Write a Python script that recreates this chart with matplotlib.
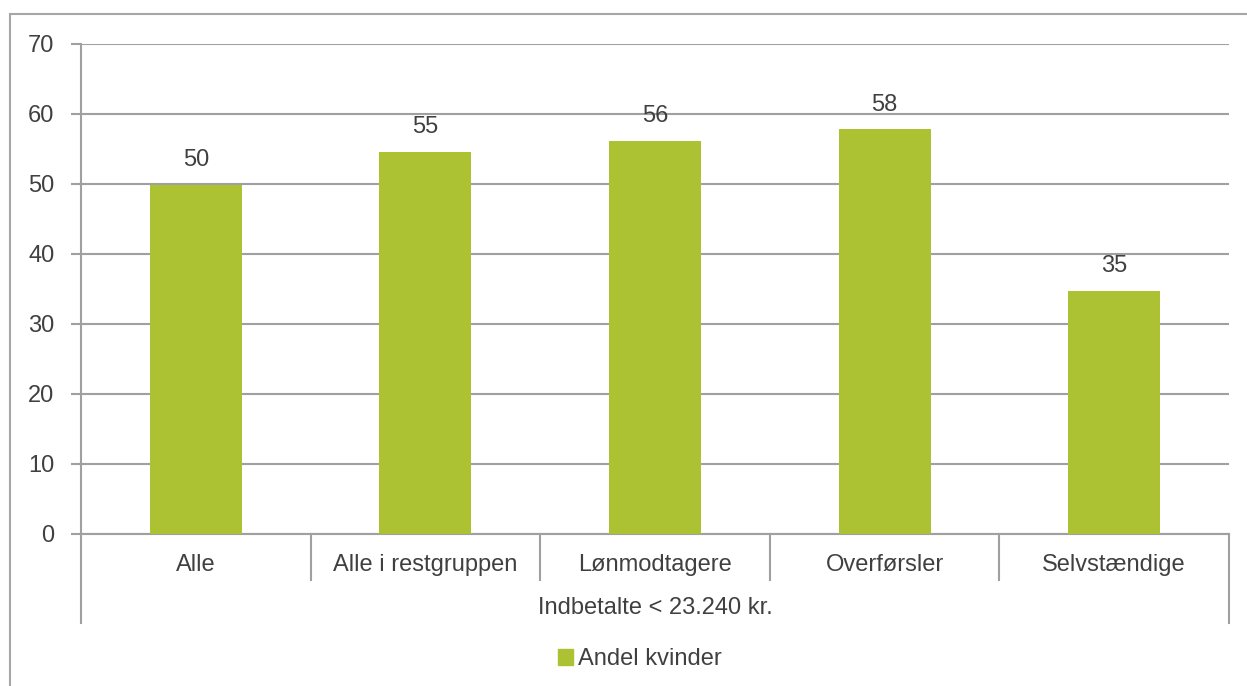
import matplotlib
matplotlib.use('Agg')
from matplotlib import pyplot as plt
from matplotlib.patches import Rectangle, Patch

# Andel kvinder blandt indbetalere under 23.240 kr.
categories = ['Alle', 'Alle i restgruppen', 'Lønmodtagere', 'Overførsler', 'Selvstændige']
values = [49.9, 54.6, 56.1, 57.8, 34.7]
group_label = 'Indbetalte < 23.240 kr.'
series_name = 'Andel kvinder'

bar_color = '#adc232'
text_color = '#404040'
line_color = '#a0a0a0'
fs = 17

plt.rcParams['font.family'] = ['Liberation Sans', 'DejaVu Sans']

fig = plt.figure(figsize=(12.47, 6.86), dpi=100)
ax = fig.add_axes([81 / 1247, 1 - 534 / 686, (1229 - 81) / 1247, (534 - 44) / 686])

x = list(range(len(categories)))
ax.bar(x, values, width=0.4, color=bar_color, zorder=3)

for xi, v in zip(x, values):
    ax.annotate(f'{v:.0f}', (xi, v), xytext=(0, 10), textcoords='offset points',
                ha='center', va='bottom', fontsize=fs, color=text_color)

ax.set_xlim(-0.5, len(categories) - 0.5)
ax.set_ylim(0, 70)
ax.set_yticks(range(0, 71, 10))
ax.yaxis.grid(True, color=line_color, lw=1.5, zorder=0)
ax.tick_params(axis='y', length=7, width=1.5, color=line_color, labelcolor=text_color,
               labelsize=fs, pad=12)
ax.set_xticks([])
for s in ['top', 'right']:
    ax.spines[s].set_visible(False)
ax.spines['left'].set_color(line_color)
ax.spines['left'].set_linewidth(1.5)
ax.spines['bottom'].set_color(line_color)
ax.spines['bottom'].set_linewidth(1.5)

# two-level category axis drawn by hand below the plot
trans = ax.get_xaxis_transform()
px = 1 / (534 - 44)
for b in range(1, len(categories)):
    ax.plot([b - 0.5, b - 0.5], [0, -46 * px], transform=trans, color=line_color,
            lw=1.5, clip_on=False)
for b in [-0.5, len(categories) - 0.5]:
    ax.plot([b, b], [0, -89 * px], transform=trans, color=line_color,
            lw=1.5, clip_on=False)
for xi, c in zip(x, categories):
    ax.text(xi, -31 * px, c, transform=trans, ha='center', va='center',
            fontsize=fs, color=text_color)
ax.text((len(categories) - 1) / 2, -74 * px, group_label, transform=trans,
        ha='center', va='center', fontsize=fs, color=text_color)

fig.legend(handles=[Patch(color=bar_color, label=series_name)], loc='center',
           bbox_to_anchor=(0.513, 1 - 659 / 686), frameon=False, fontsize=fs,
           labelcolor=text_color, handlelength=0.65, handleheight=0.65, handletextpad=0.2)

# outer chart frame
fig.patches.append(Rectangle((10 / 1247, -0.1), 1.2, 1 - 14 / 686 + 0.1,
                             transform=fig.transFigure, fill=False,
                             edgecolor='#a6a6a6', lw=1.5))

fig.savefig('out.png', dpi=100)
